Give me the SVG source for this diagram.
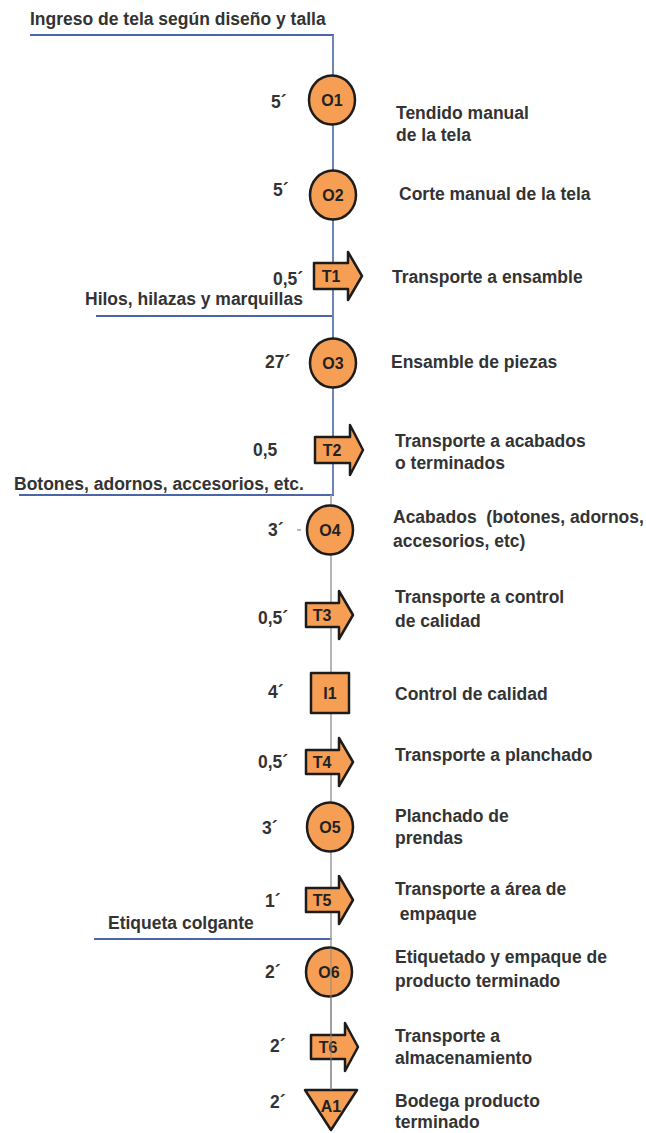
<svg xmlns="http://www.w3.org/2000/svg" width="646" height="1133" viewBox="0 0 646 1133">
<style>
  .t{font-family:"Liberation Sans",Arial,sans-serif;font-weight:bold;font-size:17.5px;fill:#333}
  .n{font-family:"Liberation Sans",Arial,sans-serif;font-weight:bold;font-size:16px;fill:#222;text-anchor:middle}
  .s{fill:#F79E55;stroke:#1c1c1c;stroke-width:2.5;stroke-linejoin:round}
  .feed{stroke:#4a66a8;stroke-width:2;fill:none}
  .vtop{stroke:#6c86b4;stroke-width:2;fill:none}
  .vbot{stroke:#a2a2a2;stroke-width:1.6;fill:none}
</style>
<rect width="646" height="1133" fill="#fff"/>
<g id="connectors">
  <line class="feed" x1="30" y1="35" x2="334" y2="35"/>
  <line class="feed" x1="96" y1="316" x2="334" y2="316"/>
  <line class="feed" x1="19" y1="495" x2="334" y2="495"/>
  <line class="feed" x1="94" y1="939" x2="332" y2="939"/>
  <line class="vtop" x1="333" y1="35" x2="333" y2="495"/>
  <line class="vbot" x1="331" y1="495" x2="331" y2="1090"/>
  <line x1="297" y1="530" x2="301" y2="530" stroke="#888" stroke-width="1.2"/>
</g>
<g id="feed-labels">
  <text class="t" x="30" y="25">Ingreso de tela según diseño y talla</text>
  <text class="t" x="85" y="305">Hilos, hilazas y marquillas</text>
  <text class="t" x="14" y="490">Botones, adornos, accesorios, etc.</text>
  <text class="t" x="108" y="929">Etiqueta colgante</text>
</g>
<g id="O1">
  <ellipse class="s" cx="332" cy="100" rx="23" ry="24.5"/>
  <text class="n" x="332" y="106">O1</text>
  <text class="t" x="271" y="108">5´</text>
  <text class="t" x="396" y="119">Tendido manual</text>
  <text class="t" x="396" y="141">de la tela</text>
</g>
<g id="O2">
  <ellipse class="s" cx="333" cy="195" rx="23" ry="24.5"/>
  <text class="n" x="333" y="201">O2</text>
  <text class="t" x="273" y="196">5´</text>
  <text class="t" x="399" y="200">Corte manual de la tela</text>
</g>
<g id="T1">
  <path class="s" d="M314,263 H348 V252 L362,276 L348,300 V289 H314 Z"/>
  <text class="n" x="331" y="282">T1</text>
  <text class="t" x="273" y="285">0,5´</text>
  <text class="t" x="392" y="283">Transporte a ensamble</text>
</g>
<g id="O3">
  <ellipse class="s" cx="333" cy="363" rx="23" ry="24.5"/>
  <text class="n" x="333" y="369">O3</text>
  <text class="t" x="265" y="368">27´</text>
  <text class="t" x="391" y="368">Ensamble de piezas</text>
</g>
<g id="T2">
  <path class="s" d="M315,437 H350 V425 L363,450 L350,475 V463 H315 Z"/>
  <text class="n" x="332" y="456">T2</text>
  <text class="t" x="253" y="456">0,5</text>
  <text class="t" x="395" y="447">Transporte a acabados</text>
  <text class="t" x="395" y="469">o terminados</text>
</g>
<g id="O4">
  <ellipse class="s" cx="330" cy="530" rx="23" ry="24.5"/>
  <text class="n" x="330" y="536">O4</text>
  <text class="t" x="268" y="536">3´</text>
  <text class="t" x="393" y="523" xml:space="preserve">Acabados  (botones, adornos,</text>
  <text class="t" x="393" y="547">accesorios, etc)</text>
</g>
<g id="T3">
  <path class="s" d="M306,603 H339 V591 L353,615 L339,639 V627 H306 Z"/>
  <text class="n" x="322" y="621">T3</text>
  <text class="t" x="258" y="624">0,5´</text>
  <text class="t" x="395" y="603">Transporte a control</text>
  <text class="t" x="395" y="627">de calidad</text>
</g>
<g id="I1">
  <rect class="s" x="311" y="673" width="38" height="40"/>
  <text class="n" x="330" y="699">I1</text>
  <text class="t" x="268" y="698">4´</text>
  <text class="t" x="395" y="700">Control de calidad</text>
</g>
<g id="T4">
  <path class="s" d="M306,750 H339 V738 L353,762 L339,786 V774 H306 Z"/>
  <text class="n" x="322" y="768">T4</text>
  <text class="t" x="258" y="768">0,5´</text>
  <text class="t" x="395" y="761">Transporte a planchado</text>
</g>
<g id="O5">
  <ellipse class="s" cx="330" cy="827" rx="23" ry="24.5"/>
  <text class="n" x="330" y="833">O5</text>
  <text class="t" x="262" y="834">3´</text>
  <text class="t" x="395" y="822">Planchado de</text>
  <text class="t" x="395" y="844">prendas</text>
</g>
<g id="T5">
  <path class="s" d="M306,888 H339 V876 L353,900 L339,924 V912 H306 Z"/>
  <text class="n" x="322" y="906">T5</text>
  <text class="t" x="265" y="907">1´</text>
  <text class="t" x="395" y="895">Transporte a área de</text>
  <text class="t" x="395" y="920" xml:space="preserve"> empaque</text>
</g>
<g id="O6">
  <ellipse class="s" cx="329" cy="972" rx="23" ry="24.5"/>
  <text class="n" x="329" y="978">O6</text>
  <text class="t" x="265" y="978">2´</text>
  <text class="t" x="395" y="963">Etiquetado y empaque de</text>
  <text class="t" x="395" y="987">producto terminado</text>
</g>
<g id="T6">
  <path class="s" d="M311,1035 H345 V1023 L358,1047 L345,1071 V1059 H311 Z"/>
  <text class="n" x="328" y="1053">T6</text>
  <text class="t" x="270" y="1052">2´</text>
  <text class="t" x="395" y="1042">Transporte a</text>
  <text class="t" x="395" y="1064">almacenamiento</text>
</g>
<g id="A1">
  <path class="s" d="M305,1090 H357 L331,1130 Z"/>
  <text class="n" x="331" y="1112">A1</text>
  <text class="t" x="270" y="1108">2´</text>
  <text class="t" x="395" y="1107">Bodega producto</text>
  <text class="t" x="395" y="1128">terminado</text>
</g>
<g id="connectors-overlay">
  <line x1="331" y1="948" x2="331" y2="1090" stroke="#8a8a8a" stroke-width="1.2" opacity="0.8"/>
</g>
</svg>
